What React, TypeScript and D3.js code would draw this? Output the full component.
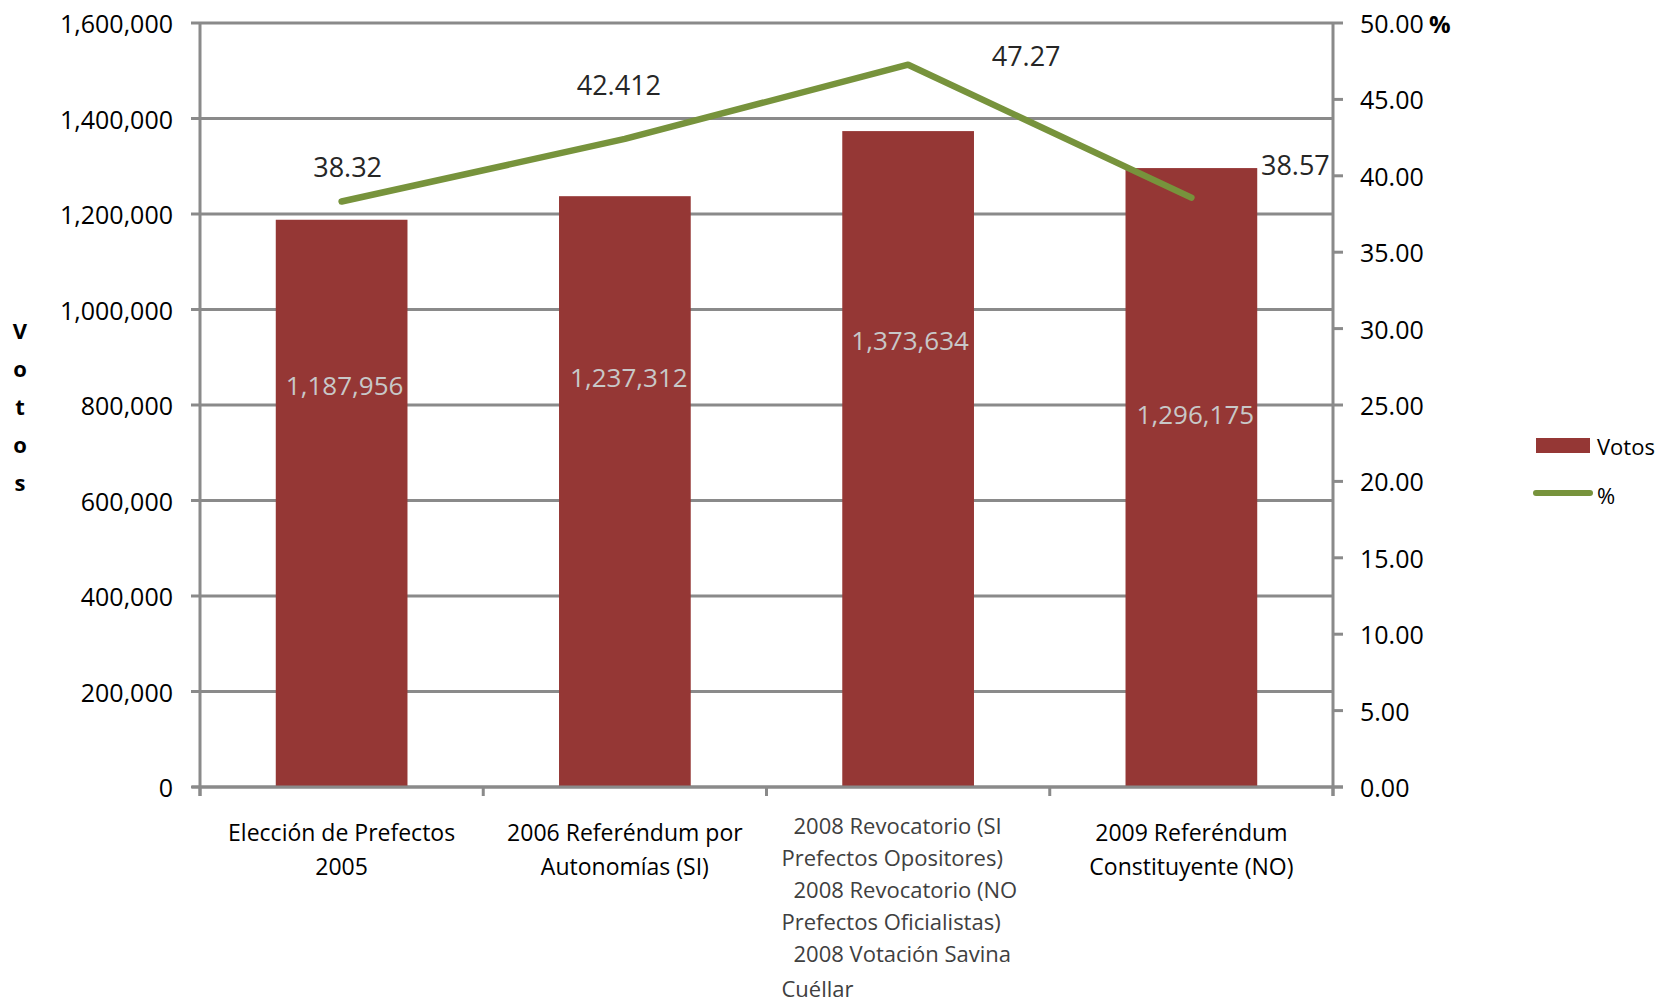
import React from "react";
import * as d3 from "d3";

const categories = [
  "Elección de Prefectos 2005",
  "2006 Referéndum por Autonomías (SI)",
  "2008 Revocatorio (SI Prefectos Opositores) 2008 Revocatorio (NO Prefectos Oficialistas) 2008 Votación Savina Cuéllar",
  "2009 Referéndum Constituyente (NO)",
];
const categoryLines = [
  ["Elección de Prefectos", "2005"],
  ["2006 Referéndum por", "Autonomías (SI)"],
  [" 2008 Revocatorio (SI", "Prefectos Opositores)", " 2008 Revocatorio (NO", "Prefectos Oficialistas)", " 2008 Votación Savina", "Cuéllar"],
  ["2009 Referéndum", "Constituyente (NO)"],
];
const votos = [1187956, 1237312, 1373634, 1296175];
const percent = [38.32, 42.412, 47.27, 38.57];
const percentLabels = ["38.32", "42.412", "47.27", "38.57"];
const leftTicks = [0, 200000, 400000, 600000, 800000, 1000000, 1200000, 1400000, 1600000];
const rightTicks = [0, 5, 10, 15, 20, 25, 30, 35, 40, 45, 50];

// layout offsets for labels (px relative to marks)
const lineLabelOffsets = [
  [6, -35],
  [-6, -54],
  [118, -9],
  [104, -33],
];
const barLabelOffsets = [
  [3, 165],
  [4, 181],
  [2, 209],
  [4, 246],
];

const FONT = "'Open Sans', 'DejaVu Sans', sans-serif";
const BAR = "#953735";
const LINE = "#77933C";
const GRID = "#8a8a8a";

export default function App() {
  const left = 200, right = 1333, top = 23, bottom = 787;
  const x = d3.scaleBand<string>().domain(categories).range([left, right]).paddingInner(0.535).paddingOuter(0.2675);
  const y = d3.scaleLinear().domain([0, 1600000]).range([bottom, top]);
  const y2 = d3.scaleLinear().domain([0, 50]).range([bottom, top]);
  const fmt = d3.format(",");
  const step = x.step();
  const cx = (i: number) => (x(categories[i]) as number) + x.bandwidth() / 2;
  const line = d3
    .line<number>()
    .x((_, i) => cx(i))
    .y((d) => y2(d));
  const boundaries = d3.range(categories.length + 1).map((i) => left + i * ((right - left) / categories.length));

  return (
    <svg width={1659} height={1003} style={{ position: "absolute", left: 0, top: 0, background: "#fff" }} fontFamily={FONT}>
      {/* gridlines */}
      {leftTicks.map((t) => (
        <line key={"g" + t} x1={left} x2={right} y1={y(t)} y2={y(t)} stroke={GRID} strokeWidth={3} />
      ))}
      {/* left axis */}
      <line x1={left} x2={left} y1={top} y2={bottom + 9} stroke={GRID} strokeWidth={3} />
      {leftTicks.map((t) => (
        <g key={"l" + t}>
          <line x1={left - 9} x2={left} y1={y(t)} y2={y(t)} stroke={GRID} strokeWidth={3} />
          <text x={173} y={y(t)} textAnchor="end" dominantBaseline="central" fontSize={25} fill="#000">
            {fmt(t)}
          </text>
        </g>
      ))}
      {/* right axis */}
      <line x1={right} x2={right} y1={top} y2={bottom + 9} stroke={GRID} strokeWidth={3} />
      {rightTicks.map((t) => (
        <g key={"r" + t}>
          <line x1={right} x2={right + 10} y1={y2(t)} y2={y2(t)} stroke={GRID} strokeWidth={3} />
          <text x={1360} y={y2(t)} dominantBaseline="central" fontSize={25} fill="#000">
            {t.toFixed(2)}
          </text>
        </g>
      ))}
      <text x={1429} y={y2(50)} dominantBaseline="central" fontSize={24} fontWeight="bold" fill="#000">
        %
      </text>
      {/* bars */}
      {votos.map((v, i) => (
        <rect key={"b" + i} x={x(categories[i])} y={y(v)} width={x.bandwidth()} height={bottom - y(v)} fill={BAR} />
      ))}
      {/* x axis */}
      <line x1={left - 8} x2={right + 10} y1={bottom} y2={bottom} stroke={GRID} strokeWidth={3} />
      {boundaries.map((b, i) => (
        <line key={"xt" + i} x1={b} x2={b} y1={bottom} y2={bottom + 9} stroke={GRID} strokeWidth={3} />
      ))}
      {/* bar labels */}
      {votos.map((v, i) => (
        <text
          key={"bl" + i}
          x={cx(i) + barLabelOffsets[i][0]}
          y={y(v) + barLabelOffsets[i][1]}
          textAnchor="middle"
          dominantBaseline="central"
          fontSize={26}
          fill="#c8c8c8"
        >
          {fmt(v)}
        </text>
      ))}
      {/* line */}
      <path d={line(percent) as string} fill="none" stroke={LINE} strokeWidth={6.5} strokeLinecap="round" strokeLinejoin="round" />
      {percent.map((p, i) => (
        <text
          key={"pl" + i}
          x={cx(i) + lineLabelOffsets[i][0]}
          y={y2(p) + lineLabelOffsets[i][1]}
          textAnchor="middle"
          dominantBaseline="central"
          fontSize={27}
          fill="#262626"
        >
          {percentLabels[i]}
        </text>
      ))}
      {/* category labels */}
      {categoryLines.map((lines, i) =>
        i === 2 ? (
          <g key={"c" + i}>
            {lines.map((ln, j) => (
              <text
                key={j}
                x={cx(i) - step / 2 + 15 + (ln.startsWith(" ") ? 12 : 0)}
                y={825 + j * 32 + (j === 5 ? 3 : 0)}
                dominantBaseline="central"
                fontSize={22}
                fill="#404040"
              >
                {ln.trim()}
              </text>
            ))}
          </g>
        ) : (
          <g key={"c" + i}>
            {lines.map((ln, j) => (
              <text key={j} x={cx(i)} y={832 + j * 34} textAnchor="middle" dominantBaseline="central" fontSize={23} fill="#000">
                {ln}
              </text>
            ))}
          </g>
        )
      )}
      {/* y title */}
      {"Votos".split("").map((ch, i) => (
        <text key={"yt" + i} x={20} y={330 + i * 38} textAnchor="middle" dominantBaseline="central" fontSize={22} fontWeight="bold" fill="#000">
          {ch}
        </text>
      ))}
      {/* legend */}
      <rect x={1536} y={438} width={54} height={15} fill={BAR} />
      <text x={1597} y={446} dominantBaseline="central" fontSize={22} fill="#000">
        Votos
      </text>
      <line x1={1536} x2={1590} y1={493} y2={493} stroke={LINE} strokeWidth={6} strokeLinecap="round" />
      <text x={1597} y={495} dominantBaseline="central" fontSize={22} fill="#000">
        %
      </text>
    </svg>
  );
}
